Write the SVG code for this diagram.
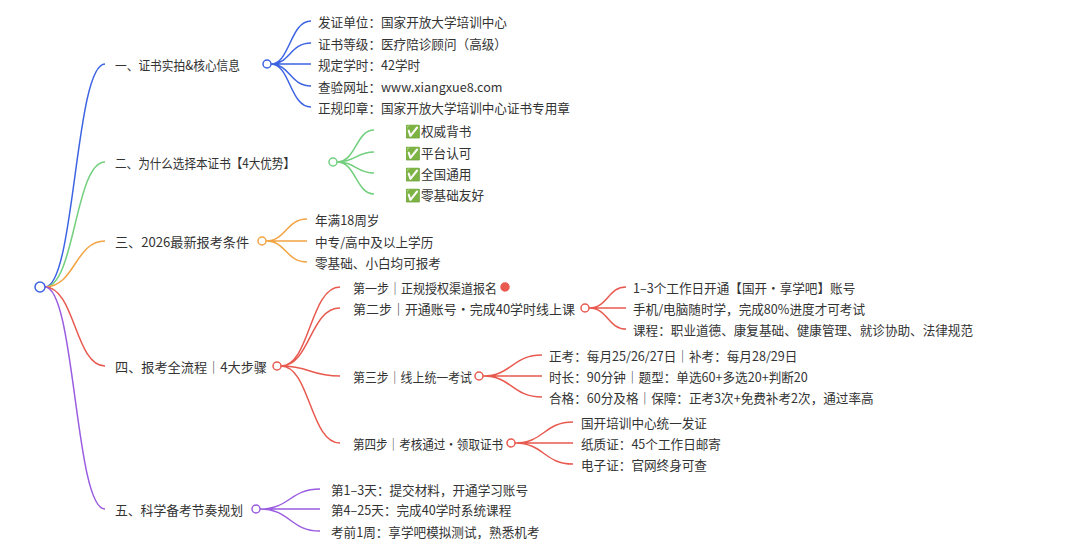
<svg xmlns="http://www.w3.org/2000/svg" width="1080" height="556" viewBox="0 0 1080 556">
<style>
text{font-family:"Noto Sans CJK SC","Noto Sans",sans-serif;font-size:12.6px;fill:#333;dominant-baseline:central}
.t1{font-size:12.8px}
path{fill:none;stroke-width:1.5}
.b{stroke:#3d63e3}.g{stroke:#72cf7e}.o{stroke:#f2a443}.r{stroke:#e85a50}.p{stroke:#9a5ce0}
circle{fill:#fff;stroke-width:1.5}
circle.dot{fill:#e85a50}
</style>
<rect width="1080" height="556" fill="#fff"/>
<g id="connectors">
<path class="b" d="M45 287 C75 287 75 64 105 64"/>
<path class="g" d="M45 287 C75 287 75 162 105 162"/>
<path class="o" d="M45 287 C75 287 75 241 105 241"/>
<path class="r" d="M45 287 C75 287 75 366 105 366"/>
<path class="p" d="M45 287 C75 287 75 509 105 509"/>
<path class="b" d="M271 64 C290 64 290 21 311 21 M271 64 C290 64 290 43 311 43 M271 64 L311 64 M271 64 C290 64 290 86 311 86 M271 64 C290 64 290 107 311 107"/>
<path class="g" d="M337 162 C356 162 356 130 374 130 M337 162 C356 162 356 152 374 152 M337 162 C356 162 356 173 374 173 M337 162 C356 162 356 194 374 194"/>
<path class="o" d="M266 241 C286 241 286 219 307 219 M266 241 L307 241 M266 241 C286 241 286 262 307 262"/>
<path class="r" d="M281 366 C310 366 310 287 340 287 M281 366 C310 366 310 308 340 308 M281 366 C310 366 310 376 340 376 M281 366 C310 366 310 443 340 443"/>
<path class="r" d="M589 308 C608 308 608 287 626 287 M589 308 L626 308 M589 308 C608 308 608 329 626 329"/>
<path class="r" d="M483 376 C512 376 512 355 542 355 M483 376 L542 376 M483 376 C512 376 512 397 542 397"/>
<path class="r" d="M515 443 C544 443 544 422 573 422 M515 443 L573 443 M515 443 C544 443 544 464 573 464"/>
<path class="p" d="M260 509 C290 509 290 489 320 489 M260 509 L320 509 M260 509 C290 509 290 531 320 531"/>
</g>
<g id="root"><circle cx="40" cy="287" r="5" stroke="#3d63e3"/></g>
<g id="n1"><text class="t1" x="115" y="64" textLength="125" lengthAdjust="spacingAndGlyphs">一、证书实拍&amp;核心信息</text><circle cx="267" cy="64" r="4" stroke="#3d63e3"/></g>
<g id="n1c">
<text x="318" y="21">发证单位：国家开放大学培训中心</text>
<text x="318" y="43">证书等级：医疗陪诊顾问（高级）</text>
<text x="318" y="64">规定学时：42学时</text>
<text x="318" y="86">查验网址：www.xiangxue8.com</text>
<text x="318" y="107">正规印章：国家开放大学培训中心证书专用章</text>
</g>
<g id="n2"><text class="t1" x="115" y="162" textLength="180" lengthAdjust="spacingAndGlyphs">二、为什么选择本证书【4大优势】</text><circle cx="333" cy="162" r="4" stroke="#72cf7e"/></g>
<g id="n2c">
<text x="405" y="130">✅权威背书</text>
<text x="405" y="152">✅平台认可</text>
<text x="405" y="173">✅全国通用</text>
<text x="405" y="194">✅零基础友好</text>
</g>
<g id="n3"><text class="t1" x="115" y="241" textLength="134" lengthAdjust="spacingAndGlyphs">三、2026最新报考条件</text><circle cx="262" cy="241" r="4" stroke="#f2a443"/></g>
<g id="n3c">
<text x="315" y="219">年满18周岁</text>
<text x="315" y="241">中专/高中及以上学历</text>
<text x="315" y="262">零基础、小白均可报考</text>
</g>
<g id="n4"><text class="t1" x="115" y="366" textLength="152" lengthAdjust="spacingAndGlyphs">四、报考全流程｜4大步骤</text><circle cx="277" cy="366" r="4" stroke="#e85a50"/></g>
<g id="s1"><text class="t1" x="353" y="287" textLength="144" lengthAdjust="spacingAndGlyphs">第一步｜正规授权渠道报名</text><circle class="dot" cx="505" cy="287" r="4" stroke="#e85a50"/></g>
<g id="s2"><text class="t1" x="353" y="308" textLength="222" lengthAdjust="spacingAndGlyphs">第二步｜开通账号·完成40学时线上课</text><circle cx="585" cy="308" r="4" stroke="#e85a50"/></g>
<g id="s2c">
<text x="633" y="287">1–3个工作日开通【国开·享学吧】账号</text>
<text x="633" y="308">手机/电脑随时学，完成80%进度才可考试</text>
<text x="633" y="329">课程：职业道德、康复基础、健康管理、就诊协助、法律规范</text>
</g>
<g id="s3"><text class="t1" x="353" y="376" textLength="119" lengthAdjust="spacingAndGlyphs">第三步｜线上统一考试</text><circle cx="479" cy="376" r="4" stroke="#e85a50"/></g>
<g id="s3c">
<text x="549" y="355">正考：每月25/26/27日｜补考：每月28/29日</text>
<text x="549" y="376">时长：90分钟｜题型：单选60+多选20+判断20</text>
<text x="549" y="397">合格：60分及格｜保障：正考3次+免费补考2次，通过率高</text>
</g>
<g id="s4"><text class="t1" x="353" y="443" textLength="150" lengthAdjust="spacingAndGlyphs">第四步｜考核通过·领取证书</text><circle cx="511" cy="443" r="4" stroke="#e85a50"/></g>
<g id="s4c">
<text x="581" y="422">国开培训中心统一发证</text>
<text x="581" y="443">纸质证：45个工作日邮寄</text>
<text x="581" y="464">电子证：官网终身可查</text>
</g>
<g id="n5"><text class="t1" x="115" y="509" textLength="128" lengthAdjust="spacingAndGlyphs">五、科学备考节奏规划</text><circle cx="256" cy="509" r="4" stroke="#9a5ce0"/></g>
<g id="n5c">
<text x="331" y="489">第1–3天：提交材料，开通学习账号</text>
<text x="331" y="509">第4–25天：完成40学时系统课程</text>
<text x="331" y="531">考前1周：享学吧模拟测试，熟悉机考</text>
</g>
</svg>
